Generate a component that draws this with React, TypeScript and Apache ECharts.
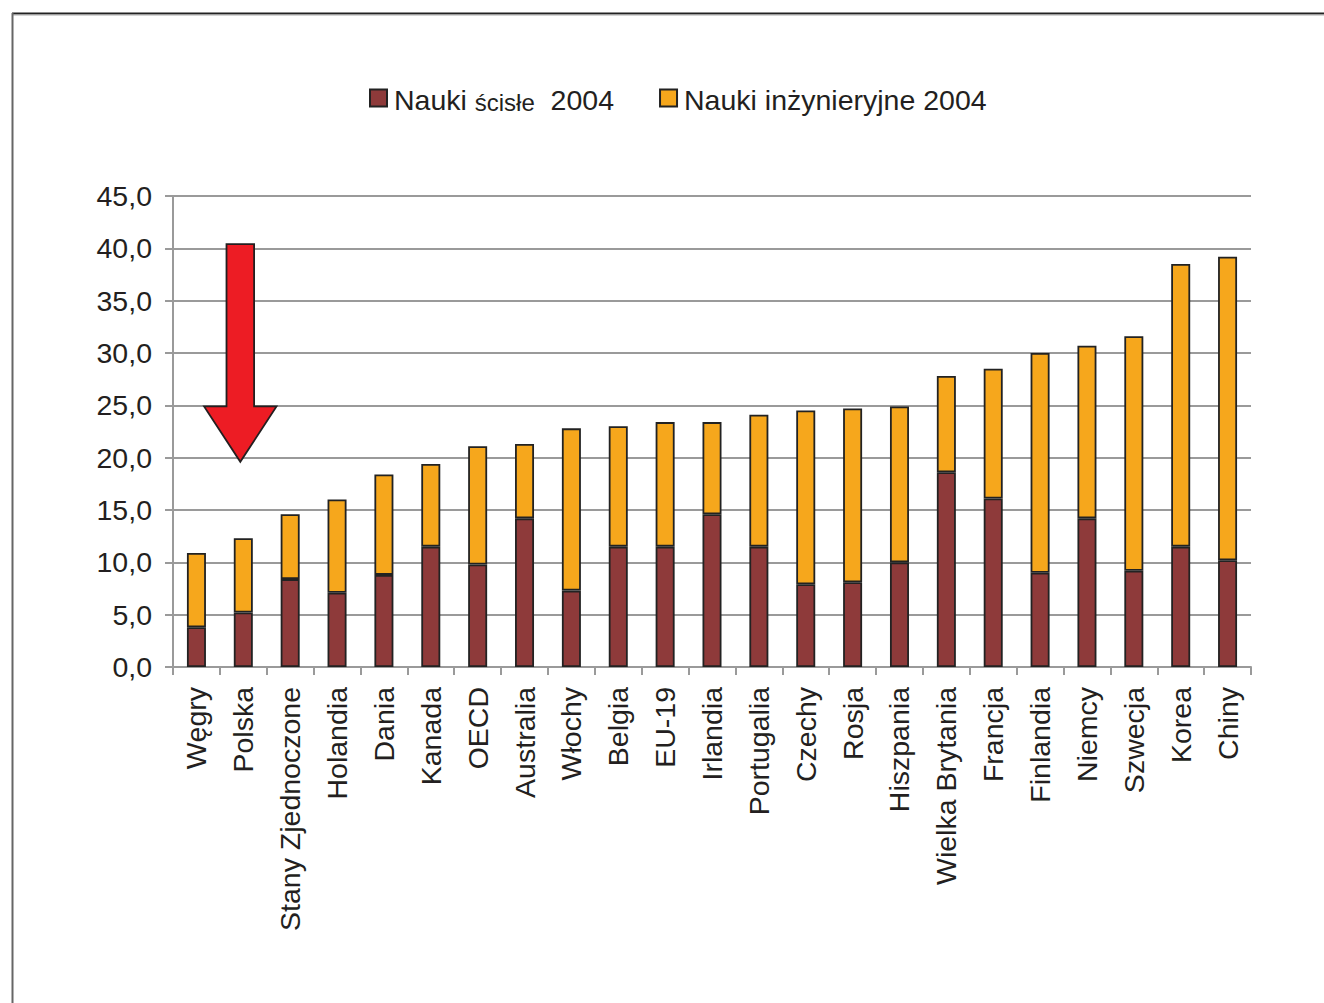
import React, { useEffect, useRef } from "react";
import * as echarts from "echarts";

const categories = [
  "Węgry", "Polska", "Stany Zjednoczone", "Holandia", "Dania", "Kanada", "OECD",
  "Australia", "Włochy", "Belgia", "EU-19", "Irlandia", "Portugalia", "Czechy",
  "Rosja", "Hiszpania", "Wielka Brytania", "Francja", "Finlandia", "Niemcy",
  "Szwecja", "Korea", "Chiny",
];

// Share of graduates, 2004 (%)
const science = [
  3.8, 5.2, 8.4, 7.1, 8.8, 11.5, 9.8, 14.2, 7.3, 11.5, 11.5, 14.6, 11.5, 7.9,
  8.1, 10.0, 18.6, 16.1, 9.0, 14.2, 9.2, 11.5, 10.2,
];
const engineering = [
  7.1, 7.1, 6.2, 8.9, 9.6, 7.9, 11.3, 7.1, 15.5, 11.5, 11.9, 8.8, 12.6, 16.6,
  16.6, 14.9, 9.2, 12.4, 21.0, 16.5, 22.4, 27.0, 29.0,
];

const seriesNames = ["Nauki ścisłe  2004", "Nauki inżynieryjne 2004"];

// Arrow pointing at Polska: shaft top, head top and tip, in axis values
const arrowTop = 40.4;
const arrowHeadTop = 24.9;
const arrowTip = 19.6;

const FONT = "'Liberation Sans', Arial, Helvetica, sans-serif";
const TEXT = "#231f20";
const FS = 28.5;

export default function App() {
  const ref = useRef<HTMLDivElement>(null);

  useEffect(() => {
    if (!ref.current) return;
    const chart = echarts.init(ref.current, undefined, { renderer: "svg" });

    const barBorder = { borderColor: "#222", borderWidth: 1.8 };

    chart.setOption({
      animation: false,
      backgroundColor: "#fff",
      textStyle: { fontFamily: FONT, color: TEXT },
      legend: {
        left: 364,
        top: 80,
        itemWidth: 17,
        itemHeight: 17,
        itemGap: 45,
        icon: "rect",
        data: seriesNames,
        formatter: (name: string) =>
          name === seriesNames[0]
            ? "{a|Nauki }{b|ścisłe}{a|  2004}"
            : "{a|" + name + "}",
        textStyle: {
          padding: [0, 0, 0, 2],
          rich: {
            a: { fontSize: FS, fontFamily: FONT, color: TEXT, verticalAlign: "bottom", lineHeight: 32 },
            b: { fontSize: 24, fontFamily: FONT, color: TEXT, verticalAlign: "bottom", lineHeight: 32 },
          },
        },
      },
      grid: { left: 173, right: 73, top: 196, bottom: 336 },
      xAxis: {
        type: "category",
        data: categories,
        axisLine: { lineStyle: { color: "#9a9a9a", width: 2 } },
        axisTick: { show: true, length: 8, lineStyle: { color: "#9a9a9a", width: 2 } },
        axisLabel: {
          rotate: 90,
          interval: 0,
          margin: 20,
          fontSize: FS,
          fontFamily: FONT,
          color: TEXT,
        },
      },
      yAxis: {
        type: "value",
        min: 0,
        max: 45,
        interval: 5,
        axisLine: { show: true, lineStyle: { color: "#9a9a9a", width: 2 } },
        axisTick: { show: true, length: 8, lineStyle: { color: "#9a9a9a", width: 2 } },
        splitLine: { lineStyle: { color: "#9a9a9a", width: 2 } },
        axisLabel: {
          margin: 21,
          fontSize: FS,
          fontFamily: FONT,
          color: TEXT,
          formatter: (v: number) => v.toFixed(1).replace(".", ","),
        },
      },
      series: [
        {
          name: seriesNames[0],
          type: "bar",
          stack: "total",
          barWidth: 19,
          data: science,
          itemStyle: { color: "#8e3a3a", ...barBorder },
        },
        {
          name: seriesNames[1],
          type: "bar",
          stack: "total",
          barWidth: 19,
          data: engineering,
          itemStyle: { color: "#f6a71c", ...barBorder },
        },
      ],
    });

    // Red arrow over Polska, positioned through the chart's scales
    const cx = (chart.convertToPixel({ xAxisIndex: 0 }, "Polska") as number) - 3;
    const yTop = chart.convertToPixel({ yAxisIndex: 0 }, arrowTop) as number;
    const yHead = chart.convertToPixel({ yAxisIndex: 0 }, arrowHeadTop) as number;
    const yTip = chart.convertToPixel({ yAxisIndex: 0 }, arrowTip) as number;
    const shaft = 13.8;
    const head = 36.2;

    chart.setOption({
      graphic: [
        {
          type: "polygon",
          z: 100,
          shape: {
            points: [
              [cx - shaft, yTop],
              [cx + shaft, yTop],
              [cx + shaft, yHead],
              [cx + head, yHead],
              [cx, yTip],
              [cx - head, yHead],
              [cx - shaft, yHead],
            ],
          },
          style: { fill: "#ed1c24", stroke: "#231f20", lineWidth: 1.8 },
        },
        {
          type: "line",
          z: 100,
          shape: { x1: 12, y1: 13.5, x2: 1324, y2: 13.5 },
          style: { stroke: "#222", lineWidth: 2 },
        },
        {
          type: "line",
          z: 100,
          shape: { x1: 12, y1: 15, x2: 1324, y2: 15 },
          style: { stroke: "#aaa", lineWidth: 1 },
        },
        {
          type: "line",
          z: 100,
          shape: { x1: 12.5, y1: 13, x2: 12.5, y2: 1003 },
          style: { stroke: "#666", lineWidth: 2 },
        },
      ],
    });

    return () => chart.dispose();
  }, []);

  return (
    <div
      ref={ref}
      style={{ position: "absolute", left: 0, top: 0, width: 1324, height: 1003 }}
    />
  );
}
